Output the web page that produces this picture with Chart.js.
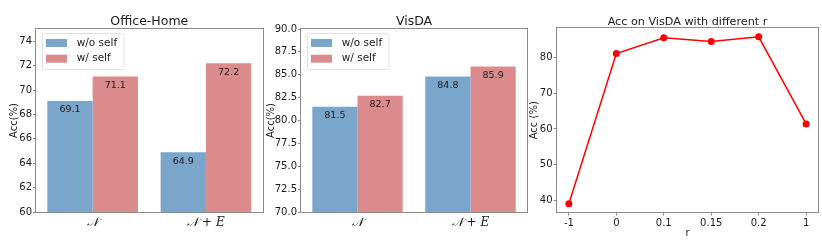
<!DOCTYPE html>
<html>
<head>
<meta charset="utf-8">
<script src="https://cdn.jsdelivr.net/npm/chart.js@4.4.1/dist/chart.umd.min.js"></script>
<style>
  html, body { margin: 0; padding: 0; background: #fff; }
  #wrap { position: relative; width: 822px; height: 243px; overflow: hidden; }
  canvas { position: absolute; top: 0; }
</style>
</head>
<body>
<div id="wrap">
  <canvas id="officeChart" width="270" height="243" style="left:0px"></canvas>
  <canvas id="visdaChart" width="273" height="243" style="left:262px"></canvas>
  <canvas id="rChart" width="296" height="243" style="left:526px"></canvas>
</div>
<script>
// data
const groups = ['𝒩', '𝒩 + 𝐸'];
const seriesNames = ['w/o self', 'w/ self'];
const officeWoSelf = [69.1, 64.9];
const officeWSelf = [71.1, 72.2];
const visdaWoSelf = [81.5, 84.8];
const visdaWSelf = [82.7, 85.9];
const officeTicks = [60, 62, 64, 66, 68, 70, 72, 74];
const visdaTicks = [70, 72.5, 75, 77.5, 80, 82.5, 85, 87.5, 90];
const rValues = ['-1', '0', '0.1', '0.15', '0.2', '1'];
const rAcc = [39.0, 81.2, 85.6, 84.6, 85.9, 61.4];
const rTicks = [40, 50, 60, 70, 80];

const FONT = '"DejaVu Sans", sans-serif';
const TEXT = '#1a1a1a';
const SPINE = '#8c8c8c';
const BLUE = 'rgb(123,166,203)';
const RED = 'rgb(219,139,140)';

// box round the plot area
const frame = {
  id: 'frame',
  afterDraw(chart) {
    const { ctx, chartArea: a } = chart;
    ctx.save();
    ctx.strokeStyle = SPINE;
    ctx.lineWidth = 1;
    const l = Math.round(a.left) - 0.5, t = Math.round(a.top) - 0.5;
    ctx.strokeRect(l, t, Math.round(a.right) - l + 0.5, Math.round(a.bottom) - t + 0.5);
    ctx.restore();
  }
};

// numbers inside the bars
const barValues = {
  id: 'barValues',
  afterDatasetsDraw(chart) {
    const ctx = chart.ctx;
    ctx.save();
    ctx.font = '9.5px ' + FONT;
    ctx.fillStyle = TEXT;
    ctx.textAlign = 'center';
    ctx.textBaseline = 'middle';
    chart.data.datasets.forEach((ds, i) => {
      chart.getDatasetMeta(i).data.forEach((bar, j) => {
        ctx.fillText(ds.data[j].toFixed(1), bar.x, bar.y + 9);
      });
    });
    ctx.restore();
  }
};

// legend drawn inside the plot, top left
const innerLegend = {
  id: 'innerLegend',
  afterDraw(chart) {
    const { ctx, chartArea: a } = chart;
    ctx.save();
    ctx.font = '10.5px ' + FONT;
    const w = Math.max(...chart.data.datasets.map(d => ctx.measureText(d.label).width));
    const x0 = a.left + 6, y0 = a.top + 4;
    const bw = w + 41, bh = 36;
    ctx.beginPath();
    ctx.roundRect(x0 + 0.5, y0 + 0.5, bw, bh, 2);
    ctx.fillStyle = 'rgba(255,255,255,0.8)';
    ctx.fill();
    ctx.strokeStyle = '#e2e2e2';
    ctx.stroke();
    chart.data.datasets.forEach((ds, i) => {
      const cy = y0 + 10 + i * 15.7;
      ctx.fillStyle = ds.backgroundColor;
      ctx.fillRect(x0 + 4, cy - 4, 21, 8);
      ctx.fillStyle = TEXT;
      ctx.textBaseline = 'middle';
      ctx.fillText(ds.label, x0 + 34.7, cy);
    });
    ctx.restore();
  }
};

function makeBarChart(id, title, woSelf, wSelf, yMin, yMax, ticks, digits, yWidth, yTitlePad, rightPad) {
  return new Chart(document.getElementById(id), {
    type: 'bar',
    data: {
      labels: groups,
      datasets: [
        { label: seriesNames[0], data: woSelf, backgroundColor: BLUE, borderWidth: 0 },
        { label: seriesNames[1], data: wSelf, backgroundColor: RED, borderWidth: 0 }
      ]
    },
    options: {
      responsive: false,
      animation: false,
      layout: { padding: { top: 0, right: rightPad, bottom: 0, left: 0 } },
      datasets: { bar: { categoryPercentage: 0.8, barPercentage: 1.0 } },
      plugins: {
        legend: { display: false },
        tooltip: { enabled: false },
        title: {
          display: true, text: title, fullSize: false, color: TEXT,
          font: { family: FONT, size: 12.5, weight: 'normal' },
          padding: { top: 14, bottom: 0 }
        }
      },
      scales: {
        x: {
          grid: { display: false, drawTicks: false },
          border: { display: false },
          ticks: { color: TEXT, padding: 4, font: { family: '"DejaVu Serif", serif', size: 12, style: 'italic' } },
          afterFit: s => { s.height = 31; }
        },
        y: {
          min: yMin, max: yMax,
          afterBuildTicks: s => { s.ticks = ticks.map(v => ({ value: v })); },
          grid: { drawOnChartArea: false, tickLength: 3, color: SPINE },
          border: { display: false },
          ticks: { color: TEXT, padding: 1, font: { family: FONT, size: 10 }, callback: v => v.toFixed(digits) },
          title: { display: true, text: 'Acc(%)', color: TEXT, font: { family: FONT, size: 10 }, padding: { top: yTitlePad, bottom: 0 } },
          afterFit: s => { s.width = yWidth; }
        }
      }
    },
    plugins: [frame, barValues, innerLegend]
  });
}

makeBarChart('officeChart', 'Office-Home', officeWoSelf, officeWSelf, 60, 75, officeTicks, 0, 36, 8.7, 7.4);
makeBarChart('visdaChart', 'VisDA', visdaWoSelf, visdaWSelf, 70, 90, visdaTicks, 1, 39, 3, 8);

// accuracy against r
const lo = Math.min(...rAcc), hi = Math.max(...rAcc), margin = (hi - lo) * 0.05;
new Chart(document.getElementById('rChart'), {
  type: 'line',
  data: {
    datasets: [{
      label: 'Acc',
      data: rAcc.map((v, i) => ({ x: i, y: v })),
      borderColor: '#ff0000',
      backgroundColor: '#ff0000',
      borderWidth: 1.5,
      pointRadius: 3.5,
      pointBorderWidth: 0,
      tension: 0
    }]
  },
  options: {
    responsive: false,
    animation: false,
    layout: { padding: { top: 0, right: 3, bottom: 0, left: 0 } },
    plugins: {
      legend: { display: false },
      tooltip: { enabled: false },
      title: {
        display: true, text: 'Acc on VisDA with different r', fullSize: false, color: TEXT,
        font: { family: FONT, size: 11.2, weight: 'normal' },
        padding: { top: 15, bottom: 0 }
      }
    },
    scales: {
      x: {
        type: 'linear', min: -0.25, max: rValues.length - 0.75,
        afterBuildTicks: s => { s.ticks = rValues.map((_, i) => ({ value: i })); },
        grid: { drawOnChartArea: false, tickLength: 3.5, color: SPINE },
        border: { display: false },
        ticks: { color: TEXT, padding: 2, font: { family: FONT, size: 10 }, callback: v => rValues[v] },
        title: { display: true, text: 'r', color: TEXT, font: { family: FONT, size: 10 }, padding: { top: 0, bottom: 4 } },
        afterFit: s => { s.height = 31; }
      },
      y: {
        min: lo - margin, max: hi + margin,
        afterBuildTicks: s => { s.ticks = rTicks.map(v => ({ value: v })); },
        grid: { drawOnChartArea: false, tickLength: 3.5, color: SPINE },
        border: { display: false },
        ticks: { color: TEXT, padding: 1, font: { family: FONT, size: 10 } },
        title: { display: true, text: 'Acc (%)', color: TEXT, font: { family: FONT, size: 10 }, padding: { top: 2, bottom: 0 } },
        afterFit: s => { s.width = 31; }
      }
    }
  },
  plugins: [frame]
});
</script>
</body>
</html>
